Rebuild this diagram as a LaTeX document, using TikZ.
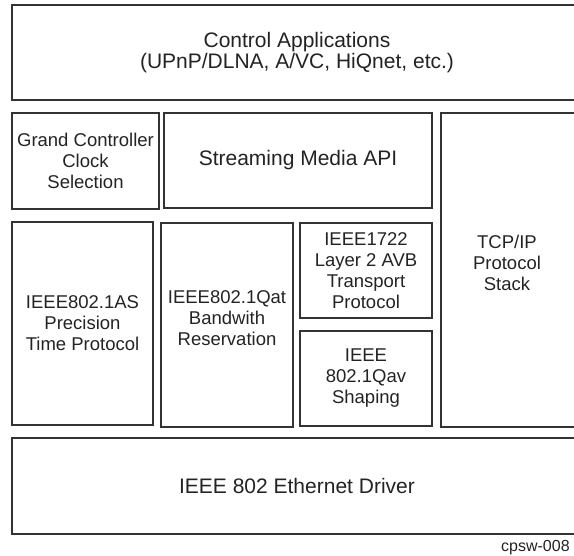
\documentclass[tikz,border=0pt]{standalone}
\usepackage{fontspec}
\setmainfont{Liberation Sans}
\usepackage{xcolor}
\usepackage{tikz}
\usetikzlibrary{positioning}
\definecolor{edge}{RGB}{51, 51, 51}
\definecolor{ink}{RGB}{35, 35, 35}

\begin{document}
\begin{tikzpicture}[x=1pt, y=-1pt,
  blk/.style={draw=edge, line width=1.7pt, rectangle, inner sep=0pt, text=ink,
    align=center, font=\fontsize{18.5}{21}\selectfont},
  big/.style={blk, font=\fontsize{21}{21.5}\selectfont},
  txt/.style={text=ink, align=center, inner sep=0pt, font=\fontsize{18.5}{21}\selectfont},
  tag/.style={text=ink, inner sep=0pt, font=\fontsize{16}{18}\selectfont}]

  \useasboundingbox (0,0) rectangle (574,556);
  \clip (0,0) rectangle (574,556);

  % top layer
  \node[big, minimum width=570pt, minimum height=95pt] (ctrl) at (297,52.5)
    {Control Applications\\(UPnP/DLNA, A/VC, HiQnet, etc.)};

  % middle layer
  \node[blk, minimum width=147pt, minimum height=96pt] (gcc) at (85.5,161)
    {Grand Controller\\Clock\\Selection};
  \node[big, minimum width=268pt, minimum height=95pt] (sma) at (298,160.5)
    {Streaming Media API};
  \node[blk, minimum width=135pt, minimum height=314pt] (tcp) at (508.5,270) {};
  \node[txt] (tcptxt) at (507,263) {TCP/IP\\Protocol\\Stack};

  \node[blk, minimum width=141pt, minimum height=203pt] (ptp) at (82.5,323.5)
    {IEEE802.1AS\\Precision\\Time Protocol};
  \node[blk, minimum width=132pt, minimum height=204pt] (qat) at (227,325) {};
  \node[txt] (qattxt) at (227,318) {IEEE802.1Qat\\Bandwith\\Reservation};
  \node[blk, minimum width=132pt, minimum height=95pt] (avb) at (366,270.5)
    {IEEE1722\\Layer 2 AVB\\Transport\\Protocol};
  \node[blk, minimum width=132pt, minimum height=95pt] (qav) at (366,378.5)
    {IEEE\\802.1Qav\\Shaping};

  % bottom layer
  \node[big, minimum width=570pt, minimum height=96pt] (eth) at (297,486)
    {IEEE 802 Ethernet Driver};

  \node[tag, anchor=base west] (fig) at (501,552) {cpsw-008};
\end{tikzpicture}
\end{document}
